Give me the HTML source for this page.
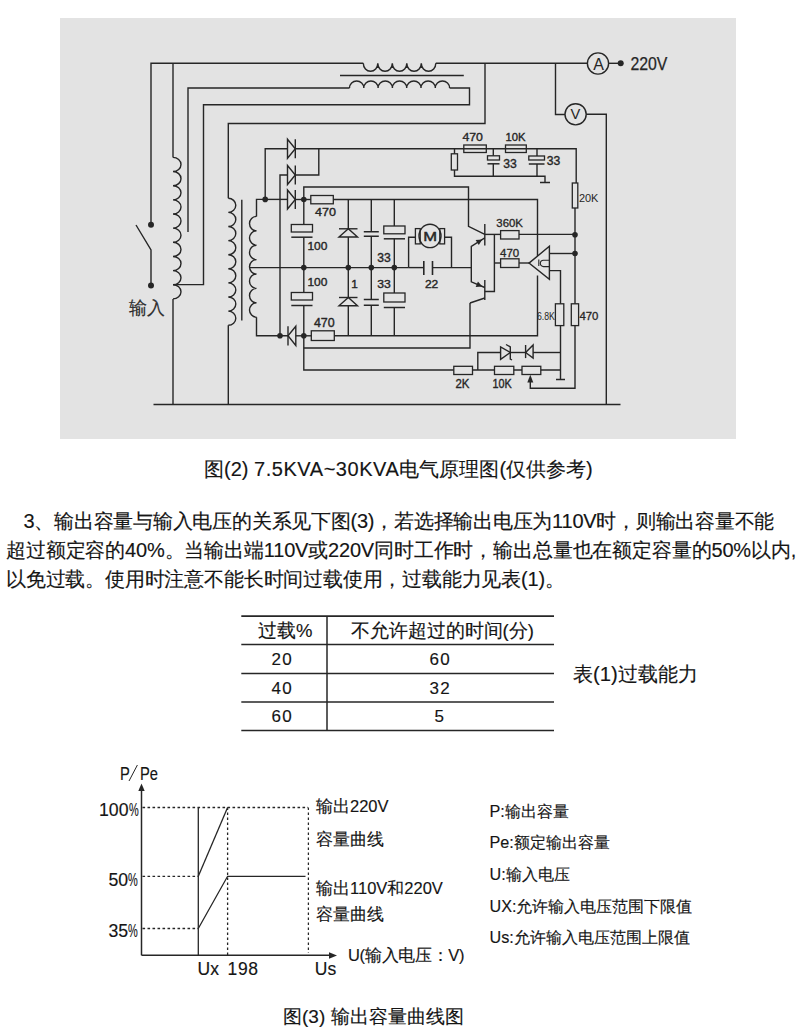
<!DOCTYPE html>
<html><head><meta charset="utf-8"><style>
html,body{margin:0;padding:0;background:#fff;}
body{width:800px;height:1031px;position:relative;overflow:hidden;font-family:"Liberation Sans",sans-serif;color:#151515;}
.t{-webkit-text-stroke:0.15px #151515;}
.bg{position:absolute;left:60px;top:18px;width:676px;height:421px;background:#e3e3e3;}
svg{position:absolute;left:0;top:0;}
svg text{font-family:"Liberation Sans",sans-serif;}
.t{position:absolute;white-space:nowrap;line-height:1;}
.j{text-align:justify;text-align-last:justify;}
.ln{position:absolute;background:#333;}
.sx{transform:scaleX(0.84);transform-origin:0 50%;}
.pc{display:inline-block;transform:scaleX(0.62);transform-origin:0 50%;}
</style></head><body>
<div class="bg"></div>
<svg width="800" height="1031" viewBox="0 0 800 1031">
<path d="M151,224.7 V63.3 H363.3" fill="none" stroke="#262626" stroke-width="1.4" />
<path d="M435.8,63.3 H587.5" fill="none" stroke="#262626" stroke-width="1.4" />
<path d="M363.3,63.3 A7.25,8 0 0 0 377.80,63.3 A7.25,8 0 0 0 392.30,63.3 A7.25,8 0 0 0 406.80,63.3 A7.25,8 0 0 0 421.30,63.3 A7.25,8 0 0 0 435.80,63.3 " fill="none" stroke="#262626" stroke-width="1.4" />
<path d="M173,157.4 V63.3" fill="none" stroke="#262626" stroke-width="1.4" />
<path d="M173,157.4 A8,7.075 0 0 1 173,171.55 A8,7.075 0 0 1 173,185.70 A8,7.075 0 0 1 173,199.85 A8,7.075 0 0 1 173,214.00 A8,7.075 0 0 1 173,228.15 A8,7.075 0 0 1 173,242.30 A8,7.075 0 0 1 173,256.45 A8,7.075 0 0 1 173,270.60 A8,7.075 0 0 1 173,284.75 A8,7.075 0 0 1 173,298.90 " fill="none" stroke="#262626" stroke-width="1.4" />
<path d="M173,298.9 V404.5" fill="none" stroke="#262626" stroke-width="1.4" />
<path d="M340,75.5 H463.8" fill="none" stroke="#262626" stroke-width="1.4" />
<path d="M188,232 V88 H349.5" fill="none" stroke="#262626" stroke-width="1.4" />
<path d="M349.5,88 A7.15,7 0 0 1 363.80,88 A7.15,7 0 0 1 378.10,88 A7.15,7 0 0 1 392.40,88 A7.15,7 0 0 1 406.70,88 A7.15,7 0 0 1 421.00,88 A7.15,7 0 0 1 435.30,88 A7.15,7 0 0 1 449.60,88 " fill="none" stroke="#262626" stroke-width="1.4" />
<path d="M449.6,88 H469.5 V104.8 H203.5 V284.6 H173" fill="none" stroke="#262626" stroke-width="1.4" />
<path d="M485,63.3 V123.5 H228.3 V198.3" fill="none" stroke="#262626" stroke-width="1.4" />
<path d="M228.3,198.3 A7.5,7.05 0 0 1 228.3,212.40 A7.5,7.05 0 0 1 228.3,226.50 A7.5,7.05 0 0 1 228.3,240.60 A7.5,7.05 0 0 1 228.3,254.70 A7.5,7.05 0 0 1 228.3,268.80 A7.5,7.05 0 0 1 228.3,282.90 A7.5,7.05 0 0 1 228.3,297.00 A7.5,7.05 0 0 1 228.3,311.10 A7.5,7.05 0 0 1 228.3,325.20 " fill="none" stroke="#262626" stroke-width="1.4" />
<path d="M228.3,325.2 V404.5" fill="none" stroke="#262626" stroke-width="1.4" />
<path d="M241.8,199.8 V320.5" fill="none" stroke="#262626" stroke-width="1.4" />
<path d="M153.5,404.5 H620.5" fill="none" stroke="#262626" stroke-width="1.4" />
<circle cx="598" cy="63.5" r="10.6" fill="none" stroke="#262626" stroke-width="1.4"/>
<text x="593.30" y="69.80" font-size="16.20" textLength="10.70" lengthAdjust="spacingAndGlyphs" fill="#262626" >A</text>
<path d="M608.6,63.3 H620.7" fill="none" stroke="#262626" stroke-width="1.4" />
<circle cx="620.7" cy="63.3" r="3" fill="#262626"/>
<path d="M555.5,63.3 V114.5 H565" fill="none" stroke="#262626" stroke-width="1.4" />
<circle cx="575.6" cy="114.3" r="10.6" fill="none" stroke="#262626" stroke-width="1.4"/>
<text x="570.60" y="118.80" font-size="14.66" textLength="9.80" lengthAdjust="spacingAndGlyphs" fill="#262626" >V</text>
<path d="M586.2,114.3 H606.3 V404.5" fill="none" stroke="#262626" stroke-width="1.4" />
<circle cx="151" cy="224.7" r="3" fill="#262626"/>
<circle cx="151" cy="285.5" r="3" fill="#262626"/>
<path d="M151,285.5 V250 L136,225" fill="none" stroke="#262626" stroke-width="1.4" />
<path d="M265.2,199.4 H256.5 V216.4" fill="none" stroke="#262626" stroke-width="1.4" />
<path d="M256.5,216.4 A7,7.2 0 0 0 256.5,230.80 A7,7.2 0 0 0 256.5,245.20 A7,7.2 0 0 0 256.5,259.60 A7,7.2 0 0 0 256.5,274.00 A7,7.2 0 0 0 256.5,288.40 A7,7.2 0 0 0 256.5,302.80 A7,7.2 0 0 0 256.5,317.20 " fill="none" stroke="#262626" stroke-width="1.4" />
<path d="M256.5,317.2 V335.8 H288" fill="none" stroke="#262626" stroke-width="1.4" />
<path d="M250,267.6 H408.8" fill="none" stroke="#262626" stroke-width="1.4" />
<path d="M432.5,267.6 H471.3" fill="none" stroke="#262626" stroke-width="1.4" />
<path d="M408.8,267.6 H423.8" fill="none" stroke="#262626" stroke-width="1.4" />
<path d="M265.2,199.4 V148.8 H287.5" fill="none" stroke="#262626" stroke-width="1.4" />
<path d="M287.5,139.3 L287.5,158.3 L295.3,148.8 Z" fill="none" stroke="#262626" stroke-width="1.4"/>
<path d="M295.3,139.3 V158.3" fill="none" stroke="#262626" stroke-width="1.4" />
<path d="M295.3,148.8 H576.2 V183" fill="none" stroke="#262626" stroke-width="1.4" />
<path d="M318.8,148.8 V175 H295.3" fill="none" stroke="#262626" stroke-width="1.4" />
<path d="M280,335.8 V175 H287.5" fill="none" stroke="#262626" stroke-width="1.4" />
<path d="M287.5,165.5 L287.5,184.5 L295.3,175 Z" fill="none" stroke="#262626" stroke-width="1.4"/>
<path d="M295.3,165.5 V184.5" fill="none" stroke="#262626" stroke-width="1.4" />
<path d="M265.2,199.4 H287.5" fill="none" stroke="#262626" stroke-width="1.4" />
<path d="M287.5,190.0 L287.5,209.0 L295.3,199.5 Z" fill="none" stroke="#262626" stroke-width="1.4"/>
<path d="M295.3,190.0 V209.0" fill="none" stroke="#262626" stroke-width="1.4" />
<path d="M295.3,199.5 H310.8" fill="none" stroke="#262626" stroke-width="1.4" />
<rect x="310.8" y="195.5" width="22.50" height="8.30" fill="none" stroke="#262626" stroke-width="1.3"/>
<path d="M333.3,199.5 H537.5 V256" fill="none" stroke="#262626" stroke-width="1.4" />
<circle cx="265.2" cy="199.4" r="2.8" fill="#262626"/>
<circle cx="303.8" cy="199.5" r="2.8" fill="#262626"/>
<path d="M303.8,199.5 V187 H468.5 V226.3 L484.8,234.4" fill="none" stroke="#262626" stroke-width="1.4" />
<path d="M303.8,199.5 V224.5" fill="none" stroke="#262626" stroke-width="1.4" />
<rect x="291.3" y="224.5" width="21.20" height="7.50" fill="none" stroke="#262626" stroke-width="1.3"/>
<path d="M291.3,237.2 H312.5" fill="none" stroke="#262626" stroke-width="1.5" />
<path d="M303.8,237.2 V292.5" fill="none" stroke="#262626" stroke-width="1.4" />
<rect x="291.3" y="292.5" width="21.20" height="7.50" fill="none" stroke="#262626" stroke-width="1.3"/>
<path d="M291.3,305.5 H312.5" fill="none" stroke="#262626" stroke-width="1.5" />
<path d="M303.8,305.5 V370 H453.8" fill="none" stroke="#262626" stroke-width="1.4" />
<path d="M348.3,199.5 V228.8" fill="none" stroke="#262626" stroke-width="1.4" />
<path d="M339,228.8 H357.5" fill="none" stroke="#262626" stroke-width="1.4" />
<path d="M348.3,228.8 L339,237 L357.5,237 Z" fill="none" stroke="#262626" stroke-width="1.4"/>
<path d="M348.3,237 V297.5" fill="none" stroke="#262626" stroke-width="1.4" />
<path d="M339,297.5 H357.5" fill="none" stroke="#262626" stroke-width="1.4" />
<path d="M348.3,297.5 L339,305.8 L357.5,305.8 Z" fill="none" stroke="#262626" stroke-width="1.4"/>
<path d="M348.3,305.8 V335.8" fill="none" stroke="#262626" stroke-width="1.4" />
<path d="M371.3,199.5 V231.8 M363.8,231.8 H378.8 M363.8,236.3 H378.8 M371.3,236.3 V299.5 M363.8,299.5 H378.8 M363.8,305.2 H378.8 M371.3,305.2 V335.8" fill="none" stroke="#262626" stroke-width="1.4" />
<path d="M394.3,199.5 V226" fill="none" stroke="#262626" stroke-width="1.4" />
<rect x="383.8" y="226" width="21.20" height="7.80" fill="none" stroke="#262626" stroke-width="1.3"/>
<path d="M383.8,238.8 H405" fill="none" stroke="#262626" stroke-width="1.5" />
<path d="M394.3,238.8 V293" fill="none" stroke="#262626" stroke-width="1.4" />
<rect x="383.8" y="293" width="21.20" height="9.00" fill="none" stroke="#262626" stroke-width="1.3"/>
<path d="M383.8,307.5 H405" fill="none" stroke="#262626" stroke-width="1.5" />
<path d="M394.3,307.5 V335.8" fill="none" stroke="#262626" stroke-width="1.4" />
<circle cx="303.8" cy="267.6" r="2.8" fill="#262626"/>
<circle cx="348.3" cy="267.6" r="2.8" fill="#262626"/>
<circle cx="371.3" cy="267.6" r="2.8" fill="#262626"/>
<circle cx="394.3" cy="267.6" r="2.8" fill="#262626"/>
<ellipse cx="430" cy="235.9" rx="11" ry="11.7" fill="none" stroke="#262626" stroke-width="1.4"/>
<text x="423.30" y="240.60" font-size="13.55" textLength="13.85" lengthAdjust="spacingAndGlyphs" fill="#262626" stroke="#262626" stroke-width="0.45">M</text>
<rect x="415.4" y="228.6" width="4.80" height="15.30" fill="none" stroke="#262626" stroke-width="1.3"/>
<rect x="439.8" y="228.6" width="4.80" height="15.30" fill="none" stroke="#262626" stroke-width="1.3"/>
<path d="M415.4,237.3 H408.6 V267.6" fill="none" stroke="#262626" stroke-width="1.4" />
<path d="M444.6,237.3 H451.5 V267.6" fill="none" stroke="#262626" stroke-width="1.4" />
<path d="M423.8,261 V275 M432.5,261 V275" fill="none" stroke="#262626" stroke-width="1.6" />
<path d="M295.8,326.3 L295.8,345.5 L288,335.8 Z" fill="none" stroke="#262626" stroke-width="1.4"/>
<path d="M288,326.3 V345.5" fill="none" stroke="#262626" stroke-width="1.4" />
<circle cx="280" cy="335.8" r="2.8" fill="#262626"/>
<circle cx="303.8" cy="335.8" r="2.8" fill="#262626"/>
<path d="M295.8,335.8 H311.3" fill="none" stroke="#262626" stroke-width="1.4" />
<rect x="311.3" y="330.8" width="23.00" height="9.70" fill="none" stroke="#262626" stroke-width="1.3"/>
<path d="M334.3,335.8 H537.5 V275.6" fill="none" stroke="#262626" stroke-width="1.4" />
<path d="M303.8,348 H470 V303" fill="none" stroke="#262626" stroke-width="1.4" />
<path d="M484.8,224 V245.6" fill="none" stroke="#262626" stroke-width="1.4" />
<path d="M500.6,234.4 H484.8" fill="none" stroke="#262626" stroke-width="1.4" />
<rect x="500.6" y="230.6" width="18.40" height="8.40" fill="none" stroke="#262626" stroke-width="1.3"/>
<path d="M519,234.4 H575" fill="none" stroke="#262626" stroke-width="1.4" />
<path d="M484.8,237.8 L471.3,246.3 V281.9 L484.8,287.5" fill="none" stroke="#262626" stroke-width="1.4" />
<path d="M482.3,239.4 L478.8,245.1 L475.6,240.1 Z" fill="#262626"/>
<path d="M482.3,286.5 L475.65,286.97 L477.95,281.43 Z" fill="#262626"/>
<path d="M494.4,234.4 V291.5 H484.8" fill="none" stroke="#262626" stroke-width="1.4" />
<path d="M484.8,280 V300" fill="none" stroke="#262626" stroke-width="1.4" />
<path d="M484.8,298 L470,303" fill="none" stroke="#262626" stroke-width="1.4" />
<path d="M494.4,263 H500.6" fill="none" stroke="#262626" stroke-width="1.4" />
<rect x="500.6" y="258.8" width="18.40" height="8.70" fill="none" stroke="#262626" stroke-width="1.3"/>
<path d="M519,263 H529" fill="none" stroke="#262626" stroke-width="1.4" />
<path d="M529,263.1 L549.4,246.3 L549.4,279.4 Z" fill="none" stroke="#262626" stroke-width="1.4"/>
<path d="M538.8,259.4 V266 M549,260.3 H543.5 A3,3 0 0 0 543.5,266.6 H549" fill="none" stroke="#262626" stroke-width="1.1" />
<path d="M549.4,253.5 H575" fill="none" stroke="#262626" stroke-width="1.4" />
<path d="M549.4,270.6 H560.5 V303.8" fill="none" stroke="#262626" stroke-width="1.4" />
<rect x="555.4" y="303.8" width="8.40" height="21.80" fill="none" stroke="#262626" stroke-width="1.3"/>
<path d="M560.5,325.6 V379.5 M556,379.5 H565" fill="none" stroke="#262626" stroke-width="1.4" />
<circle cx="575" cy="234.8" r="2.8" fill="#262626"/>
<circle cx="575" cy="253.5" r="2.8" fill="#262626"/>
<rect x="572.3" y="183" width="5.50" height="25.00" fill="none" stroke="#262626" stroke-width="1.3"/>
<path d="M575,208 V303.8" fill="none" stroke="#262626" stroke-width="1.4" />
<rect x="571.3" y="303.8" width="7.30" height="21.80" fill="none" stroke="#262626" stroke-width="1.3"/>
<path d="M575,325.6 V388.3 H530.3 V382" fill="none" stroke="#262626" stroke-width="1.4" />
<path d="M530.3,374.8 L527.3,382.6 L533.3,382.6 Z" fill="#262626"/>
<path d="M454.5,148.8 V153.8" fill="none" stroke="#262626" stroke-width="1.4" />
<rect x="451.3" y="153.8" width="6.20" height="16.20" fill="none" stroke="#262626" stroke-width="1.3"/>
<path d="M454.5,170 V176.3 H545 V182.5 M540,182.5 H550" fill="none" stroke="#262626" stroke-width="1.4" />
<rect x="463.8" y="145" width="22.50" height="7.50" fill="none" stroke="#262626" stroke-width="1.3"/>
<rect x="505.5" y="145" width="20.80" height="7.50" fill="none" stroke="#262626" stroke-width="1.3"/>
<path d="M493.3,148.8 V155.8" fill="none" stroke="#262626" stroke-width="1.4" />
<rect x="487.5" y="155.8" width="12.00" height="4.20" fill="none" stroke="#262626" stroke-width="1.3"/>
<path d="M487.5,163.8 H499.5" fill="none" stroke="#262626" stroke-width="1.5" />
<path d="M493.3,163.8 V176.3" fill="none" stroke="#262626" stroke-width="1.4" />
<path d="M537,148.8 V156" fill="none" stroke="#262626" stroke-width="1.4" />
<rect x="528.8" y="156" width="15.70" height="4.00" fill="none" stroke="#262626" stroke-width="1.3"/>
<path d="M528.8,164 H544.5" fill="none" stroke="#262626" stroke-width="1.5" />
<path d="M537,164 V176.3" fill="none" stroke="#262626" stroke-width="1.4" />
<path d="M477.8,370 V352.5 H500.6" fill="none" stroke="#262626" stroke-width="1.4" />
<path d="M500.6,346.9 L500.6,359.4 L510.3,352.5 Z" fill="none" stroke="#262626" stroke-width="1.4"/>
<path d="M506,344.5 L510.3,346.9 V359 L512,360" fill="none" stroke="#262626" stroke-width="1.4" />
<path d="M510.3,352.5 H525.6" fill="none" stroke="#262626" stroke-width="1.4" />
<path d="M525.6,345 V358.1" fill="none" stroke="#262626" stroke-width="1.4" />
<path d="M533.1,345 L533.1,358.1 L525.6,352.5 Z" fill="none" stroke="#262626" stroke-width="1.4"/>
<path d="M533.1,352.5 H560.5" fill="none" stroke="#262626" stroke-width="1.4" />
<path d="M453.8,370 H560.5" fill="none" stroke="#262626" stroke-width="1.4" />
<rect x="453.8" y="366.3" width="18.70" height="8.20" fill="#e3e3e3" stroke="#262626" stroke-width="1.3"/>
<rect x="494.5" y="366.3" width="19.30" height="8.20" fill="#e3e3e3" stroke="#262626" stroke-width="1.3"/>
<rect x="522" y="366.3" width="18.80" height="8.20" fill="#e3e3e3" stroke="#262626" stroke-width="1.3"/>
<text x="630.40" y="70.00" font-size="17.46" textLength="37.00" lengthAdjust="spacingAndGlyphs" fill="#262626" stroke="#262626" stroke-width="0.25">220V</text>
<text x="462.40" y="141.25" font-size="11.52" textLength="20.50" lengthAdjust="spacingAndGlyphs" fill="#262626" stroke="#262626" stroke-width="0.38">470</text>
<text x="505.40" y="141.25" font-size="11.52" textLength="20.00" lengthAdjust="spacingAndGlyphs" fill="#262626" stroke="#262626" stroke-width="0.38">10K</text>
<text x="503.15" y="167.50" font-size="12.22" textLength="13.50" lengthAdjust="spacingAndGlyphs" fill="#262626" stroke="#262626" stroke-width="0.38">33</text>
<text x="546.70" y="164.50" font-size="11.87" textLength="13.50" lengthAdjust="spacingAndGlyphs" fill="#262626" stroke="#262626" stroke-width="0.38">33</text>
<text x="578.90" y="201.50" font-size="10.82" textLength="19.50" lengthAdjust="spacingAndGlyphs" fill="#262626" >20K</text>
<text x="496.30" y="227.00" font-size="10.61" textLength="26.60" lengthAdjust="spacingAndGlyphs" fill="#262626" stroke="#262626" stroke-width="0.3">360K</text>
<text x="500.00" y="256.50" font-size="10.82" textLength="19.15" lengthAdjust="spacingAndGlyphs" fill="#262626" stroke="#262626" stroke-width="0.3">470</text>
<text x="315.00" y="215.80" font-size="11.59" textLength="21.00" lengthAdjust="spacingAndGlyphs" fill="#262626" stroke="#262626" stroke-width="0.38">470</text>
<text x="307.40" y="250.20" font-size="11.59" textLength="20.00" lengthAdjust="spacingAndGlyphs" fill="#262626" stroke="#262626" stroke-width="0.38">100</text>
<text x="377.15" y="261.50" font-size="11.87" textLength="13.50" lengthAdjust="spacingAndGlyphs" fill="#262626" stroke="#262626" stroke-width="0.38">33</text>
<text x="424.90" y="288.20" font-size="11.45" textLength="13.40" lengthAdjust="spacingAndGlyphs" fill="#262626" stroke="#262626" stroke-width="0.38">22</text>
<text x="351.30" y="288.20" font-size="11.45" textLength="6.60" lengthAdjust="spacingAndGlyphs" fill="#262626" stroke="#262626" stroke-width="0.38">1</text>
<text x="377.15" y="288.20" font-size="11.45" textLength="13.50" lengthAdjust="spacingAndGlyphs" fill="#262626" stroke="#262626" stroke-width="0.38">33</text>
<text x="307.40" y="285.80" font-size="11.59" textLength="20.00" lengthAdjust="spacingAndGlyphs" fill="#262626" stroke="#262626" stroke-width="0.38">100</text>
<text x="313.90" y="326.75" font-size="12.22" textLength="20.75" lengthAdjust="spacingAndGlyphs" fill="#262626" stroke="#262626" stroke-width="0.38">470</text>
<text x="536.90" y="320.20" font-size="11.59" textLength="17.90" lengthAdjust="spacingAndGlyphs" fill="#262626" >6.8K</text>
<text x="579.40" y="320.40" font-size="11.03" textLength="19.00" lengthAdjust="spacingAndGlyphs" fill="#262626" stroke="#262626" stroke-width="0.3">470</text>
<text x="455.40" y="388.20" font-size="12.15" textLength="14.00" lengthAdjust="spacingAndGlyphs" fill="#262626" stroke="#262626" stroke-width="0.38">2K</text>
<text x="492.40" y="388.20" font-size="12.15" textLength="19.20" lengthAdjust="spacingAndGlyphs" fill="#262626" stroke="#262626" stroke-width="0.38">10K</text>
<path d="M141.5,955.3 V790" fill="none" stroke="#262626" stroke-width="1.5" />
<path d="M141.5,783.5 L138.3,791 L144.7,791 Z" fill="#262626"/>
<path d="M141.5,955.3 H329" fill="none" stroke="#262626" stroke-width="1.5" />
<path d="M337,955.5 L329,952.3 L329,958.7 Z" fill="#262626"/>
<path d="M142.5,807.5 H308" fill="none" stroke="#262626" stroke-width="1.3" stroke-dasharray="2.6,2.4"/>
<path d="M142.5,876.3 H198" fill="none" stroke="#262626" stroke-width="1.3" stroke-dasharray="2.6,2.4"/>
<path d="M142.5,928.5 H198" fill="none" stroke="#262626" stroke-width="1.3" stroke-dasharray="2.6,2.4"/>
<path d="M227.6,807.5 V955" fill="none" stroke="#262626" stroke-width="1.3" stroke-dasharray="2.6,2.4"/>
<path d="M308.4,807.5 V953" fill="none" stroke="#262626" stroke-width="1.25" stroke-dasharray="2.6,2.4"/>
<path d="M198.3,807.5 V955.3" fill="none" stroke="#262626" stroke-width="1.3" />
<path d="M198.3,876.3 L227.6,807.5" fill="none" stroke="#262626" stroke-width="1.3" />
<path d="M198.3,928.5 L227.6,876.3 H305.5" fill="none" stroke="#262626" stroke-width="1.3" />
<path d="M129,781 L137.4,765" fill="none" stroke="#262626" stroke-width="1.0" />
<path d="M241.3,616.2 H554" fill="none" stroke="#262626" stroke-width="1.7" stroke="#2a2a2a"/>
<path d="M241.3,644.5 H554" fill="none" stroke="#262626" stroke-width="1.5" stroke="#2a2a2a"/>
<path d="M241.3,673.6 H554" fill="none" stroke="#262626" stroke-width="1.5" stroke="#2a2a2a"/>
<path d="M241.3,702 H554" fill="none" stroke="#262626" stroke-width="1.5" stroke="#2a2a2a"/>
<path d="M241.3,730.5 H554" fill="none" stroke="#262626" stroke-width="1.7" stroke="#2a2a2a"/>
<path d="M327,616.2 V730.5" fill="none" stroke="#262626" stroke-width="1.5" />
</svg>

<div class="t" style="left:129px;top:299px;font-size:18px;color:#333">输入</div>
<div class="t" style="left:204px;top:459px;font-size:20px">图(2) <span style="letter-spacing:0.55px">7.5KVA~30KVA</span>电气原理图(仅供参考)</div>
<div class="t" style="left:23.5px;top:510.8px;font-size:20px;letter-spacing:-0.24px">3、输出容量与输入电压的关系见下图(3)，若选择输出电压为110V时，则输出容量不能</div>
<div class="t j" style="left:6px;top:540.2px;width:790px;font-size:20px;letter-spacing:-0.22px">超过额定容的40%。当输出端110V或220V同时工作时，输出总量也在额定容量的50%以内,</div>
<div class="t" style="left:6px;top:569.3px;font-size:20px;letter-spacing:-0.19px">以免过载。使用时注意不能长时间过载使用，过载能力见表(1)。</div>

<div class="t" style="left:258px;top:622px;font-size:18.5px">过载%</div>
<div class="t" style="left:350.5px;top:622px;font-size:18.5px">不允许超过的时间(分)</div>
<div class="t" style="left:271.5px;top:651px;font-size:17px;letter-spacing:1.2px">20</div>
<div class="t" style="left:271.5px;top:680px;font-size:17px;letter-spacing:1.2px">40</div>
<div class="t" style="left:271.5px;top:708px;font-size:17px;letter-spacing:1.2px">60</div>
<div class="t" style="left:429.5px;top:651px;font-size:17px;letter-spacing:1.2px">60</div>
<div class="t" style="left:429.5px;top:680px;font-size:17px;letter-spacing:1.2px">32</div>
<div class="t" style="left:434.5px;top:708px;font-size:17px">5</div>
<div class="t" style="left:573px;top:663.5px;font-size:20.3px">表(1)过载能力</div>

<div class="t sx" style="left:119.5px;top:766px;font-size:17.5px">P</div>

<div class="t sx" style="left:139.7px;top:766px;font-size:17.5px">Pe</div>
<div class="t" style="left:99px;top:801.5px;font-size:17.7px">100<span class="pc">%</span></div>
<div class="t" style="left:108.5px;top:871.5px;font-size:17.7px">50<span class="pc">%</span></div>
<div class="t" style="left:108.5px;top:922.5px;font-size:17.7px">35<span class="pc">%</span></div>
<div class="t" style="left:197.5px;top:960.5px;font-size:17.5px">Ux</div>
<div class="t" style="left:227.5px;top:960.5px;font-size:17.5px;letter-spacing:0.7px">198</div>
<div class="t" style="left:314.8px;top:960.5px;font-size:17.5px">Us</div>
<div class="t" style="left:348px;top:947px;font-size:16.5px;letter-spacing:-0.3px">U(输入电压：V)</div>
<div class="t" style="left:316px;top:798px;font-size:16.5px">输出220V</div>
<div class="t" style="left:316px;top:831px;font-size:16.5px">容量曲线</div>
<div class="t" style="left:316px;top:880px;font-size:16.5px">输出110V和220V</div>
<div class="t" style="left:316px;top:906px;font-size:16.5px">容量曲线</div>
<div class="t" style="left:489.5px;top:802.5px;font-size:16.2px">P:输出容量</div>
<div class="t" style="left:489.5px;top:834px;font-size:16.2px">Pe:额定输出容量</div>
<div class="t" style="left:489.5px;top:866px;font-size:16.2px">U:输入电压</div>
<div class="t" style="left:489.5px;top:897.5px;font-size:16.2px">UX:允许输入电压范围下限值</div>
<div class="t" style="left:489.5px;top:929px;font-size:16.2px">Us:允许输入电压范围上限值</div>
<div class="t" style="left:283px;top:1007px;font-size:19px">图(3) 输出容量曲线图</div>

</body></html>
